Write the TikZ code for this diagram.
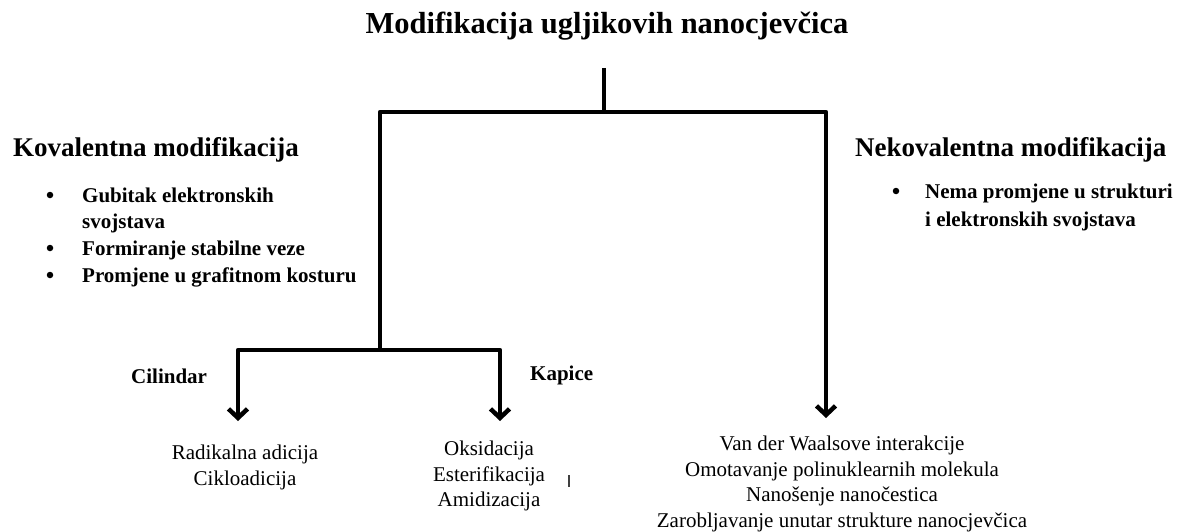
\documentclass[tikz,border=0pt]{standalone}
\usepackage{fontspec}
\setmainfont{Liberation Serif}
\usetikzlibrary{arrows.meta}
\begin{document}
\begin{tikzpicture}[x=1pt,y=-1pt,
  titletext/.style={font=\bfseries\fontsize{30.5}{36}\selectfont, inner sep=0pt, anchor=base},
  headtext/.style={font=\bfseries\fontsize{27}{32}\selectfont, inner sep=0pt, anchor=base west},
  itemtext/.style={font=\bfseries\fontsize{21}{26}\selectfont, inner sep=0pt, anchor=base west},
  bulletdot/.style={circle, fill=black, inner sep=0pt, minimum size=6.5pt},
  listtext/.style={font=\fontsize{21}{25.5}\selectfont, inner sep=0pt, align=center, anchor=north},
  conn/.style={line width=4.5pt, line join=round, draw=black},
  tipstyle/.style={},
  arr/.style={conn, -{Straight Barb[length=9pt,width=19pt]}},
  dblarr/.style={conn, {Straight Barb[length=9pt,width=19pt]}-{Straight Barb[length=9pt,width=19pt]}},
]
\useasboundingbox (0,0) rectangle (1198,532);

% title
\node[titletext] (title) at (607,34) {Modifikacija ugljikovih nanocjevčica};

% left heading and bullets
\node[headtext] (kov) at (13,156) {Kovalentna modifikacija};
\node[bulletdot] (kb1) at (50,195) {};
\node[itemtext] (ki1) at (82,202) {Gubitak elektronskih};
\node[itemtext] (ki1b) at (82,228) {svojstava};
\node[bulletdot] (kb2) at (50,248) {};
\node[itemtext] (ki2) at (82,255) {Formiranje stabilne veze};
\node[bulletdot] (kb3) at (50,275) {};
\node[itemtext] (ki3) at (82,282) {Promjene u grafitnom kosturu};

% right heading and bullet
\node[headtext] (nekov) at (855,156) {Nekovalentna modifikacija};
\node[bulletdot] (nb1) at (896,191) {};
\node[itemtext] (ni1) at (925,198) {Nema promjene u strukturi};
\node[itemtext] (ni1b) at (925,226) {i elektronskih svojstava};

% branch labels
\node[itemtext] (cil) at (131,383) {Cilindar};
\node[itemtext] (kap) at (530,380) {Kapice};

% bottom lists
\node[listtext] (rad) at (245,445) {Radikalna adicija\\Cikloadicija};
\node[listtext] (oks) at (489,441) {Oksidacija\\Esterifikacija\\Amidizacija};
\node[listtext] (vdw) at (842,436) {Van der Waalsove interakcije\\Omotavanje polinuklearnih molekula\\Nanošenje nanočestica\\Zarobljavanje unutar strukture nanocjevčica};

% connector coordinates
\coordinate (s0) at (604,68);
\coordinate (j1) at (604,112);
\coordinate (jL) at (380,112);
\coordinate (jR) at (826,112);
\coordinate (j2) at (380,350);
\coordinate (cL) at (238,350);
\coordinate (cR) at (500,350);
\coordinate (tipC) at (238,421);
\coordinate (tipK) at (500,421);
\coordinate (tipN) at (826,418);

% connectors
\draw[conn] (s0) -- (j1);
\draw[arr] (j2) -- (jL) -- (jR) -- (tipN);
\draw[dblarr] (tipC) -- (cL) -- (cR) -- (tipK);

% stray mark
\draw[line width=1.5pt, black!75] (569,475) -- (569,487);
\end{tikzpicture}
\end{document}
